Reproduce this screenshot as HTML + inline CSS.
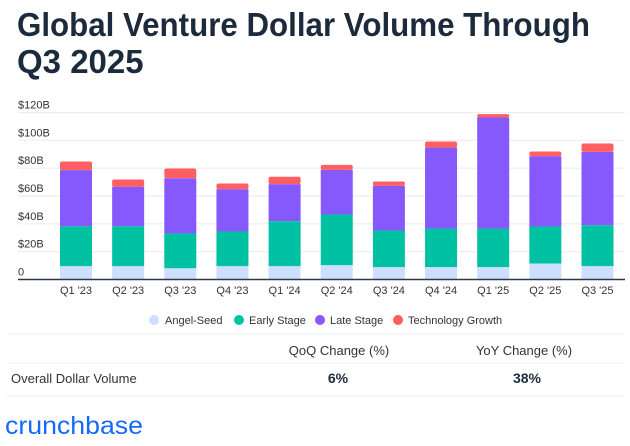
<!DOCTYPE html>
<html><head><meta charset="utf-8"><style>
body{margin:0;background:#fff;}
svg{display:block;font-family:"Liberation Sans",sans-serif;}
</style></head><body>
<svg width="630" height="446" viewBox="0 0 630 446" id="chart">
<text x="17" y="36" font-size="33" font-weight="bold" fill="#1c2b3c" textLength="573" lengthAdjust="spacingAndGlyphs">Global Venture Dollar Volume Through</text>
<text x="17" y="73" font-size="33" font-weight="bold" fill="#1c2b3c">Q3 2025</text>
<g id="grid"></g><g id="bars"></g><g id="xlab"></g>
<line x1="18" x2="625" y1="279.5" y2="279.5" stroke="#2a3a4a" stroke-width="1.5"/>
<g font-size="11" fill="#333">
<g><circle cx="154" cy="320" r="5" fill="#cddfff"/><text x="165" y="324">Angel-Seed</text></g>
<g><circle cx="239" cy="320" r="5" fill="#00c2a2"/><text x="249" y="324">Early Stage</text></g>
<g><circle cx="320" cy="320" r="5" fill="#8559fb"/><text x="330" y="324">Late Stage</text></g>
<g><circle cx="398" cy="320" r="5" fill="#ff5e63"/><text x="408" y="324">Technology Growth</text></g>
</g>
<line x1="7" x2="624" y1="334" y2="334" stroke="#eee"/>
<line x1="7" x2="624" y1="363" y2="363" stroke="#eee"/>
<line x1="7" x2="624" y1="396" y2="396" stroke="#eee"/>
<text x="339" y="355" font-size="13" fill="#333" text-anchor="middle">QoQ Change (%)</text>
<text x="524" y="355" font-size="13" fill="#333" text-anchor="middle">YoY Change (%)</text>
<text x="11" y="383" font-size="13" fill="#333">Overall Dollar Volume</text>
<text x="338" y="383" font-size="14" font-weight="bold" fill="#1c2b3c" text-anchor="middle">6%</text>
<text x="527" y="383" font-size="14" font-weight="bold" fill="#1c2b3c" text-anchor="middle">38%</text>
<text x="5" y="434" font-size="25" fill="#146aff" textLength="138" lengthAdjust="spacingAndGlyphs">crunchbase</text>
</svg>
<script>
const categories=["Q1 '23","Q2 '23","Q3 '23","Q4 '23","Q1 '24","Q2 '24","Q3 '24","Q4 '24","Q1 '25","Q2 '25","Q3 '25"];
const angelSeed=[9.6,9.6,8.1,9.6,9.6,10.3,8.9,8.9,8.9,11.5,9.6];
const earlyStage=[28.7,28.7,25.0,24.9,32.3,36.4,26.3,27.7,27.7,26.6,29.4];
const lateStage=[40.3,28.3,39.7,30.4,26.6,32.1,32.1,58.2,79.8,50.5,52.7];
const techGrowth=[6.2,5.3,7.0,4.1,5.3,3.6,3.1,4.4,2.4,3.4,6.0];
const yTicks=[0,20,40,60,80,100,120];
const yTickLabels=["0","$20B","$40B","$60B","$80B","$100B","$120B"];
const NS="http://www.w3.org/2000/svg";
const y=v=>279.5-v*(167/120);
const x=i=>76+i*52.15;
const grid=document.getElementById('grid'),bars=document.getElementById('bars'),xl=document.getElementById('xlab');
yTicks.forEach((t,i)=>{
 if(t>0){const l=document.createElementNS(NS,'line');
 l.setAttribute('x1',18);l.setAttribute('x2',625);l.setAttribute('y1',y(t));l.setAttribute('y2',y(t));
 l.setAttribute('stroke','#eeeeee');l.setAttribute('stroke-width','1.2');
 
 
 grid.appendChild(l);}
 const tx=document.createElementNS(NS,'text');
 tx.setAttribute('x',18);tx.setAttribute('y',y(t)-4);tx.setAttribute('font-size','11');tx.setAttribute('fill','#333');
 tx.textContent=yTickLabels[i];
 
 
 grid.appendChild(tx);
});
const series=[[angelSeed,'#cddfff','angel-seed'],[earlyStage,'#00c2a2','early-stage'],[lateStage,'#8559fb','late-stage'],[techGrowth,'#ff5e63','technology-growth']];
categories.forEach((c,i)=>{
 let base=0;
 series.forEach(([arr,col,nm],s)=>{
  const v=arr[i];const r=document.createElementNS(NS,'rect');
  r.setAttribute('x',x(i)-16);r.setAttribute('width',32);
  r.setAttribute('y',y(base+v));r.setAttribute('height',y(base)-y(base+v));
  r.setAttribute('fill',col);
  if(s===3){r.setAttribute('rx',2);}
  
  
  bars.appendChild(r);base+=v;
 });
 const t=document.createElementNS(NS,'text');
 t.setAttribute('x',x(i));t.setAttribute('y',294);t.setAttribute('text-anchor','middle');
 t.setAttribute('font-size','11');t.setAttribute('fill','#333');t.textContent=c;
 
 
 xl.appendChild(t);
});
</script>
</body></html>
